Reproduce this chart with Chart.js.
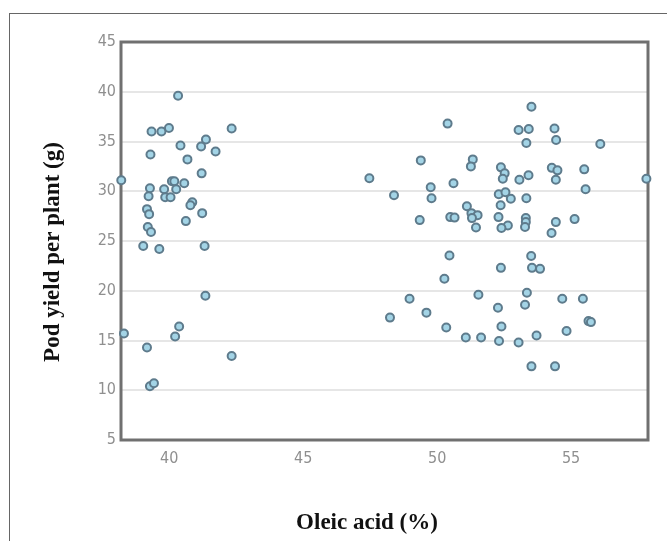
<!DOCTYPE html>
<html lang="en">
  <head>
    <meta charset="UTF-8" />
    <title>Pod yield vs oleic acid</title>
    <script src="https://cdn.jsdelivr.net/npm/chart.js@4.4.1/dist/chart.umd.min.js"></script>
    <style>
      html,
      body {
        margin: 0;
        padding: 0;
        background: #fff;
        overflow: hidden;
      }
      #frame {
        position: absolute;
        left: 9px;
        top: 13px;
        width: 700px;
        height: 600px;
        border-left: 1px solid #666;
        border-top: 1px solid #666;
      }
      #wrap {
        position: absolute;
        left: 0;
        top: 0;
        width: 667px;
        height: 541px;
      }
    </style>
  </head>
  <body>
    <div id="frame"></div>
    <div id="wrap">
      <canvas id="chart" width="667" height="541"></canvas>
    </div>
  </body>
  <script>
    // oleic acid (%) and pod yield (g), low-oleic group
    const oleicLow = [
      38.21, 40.33, 39.34, 39.71, 39.99, 42.33, 41.37, 41.19, 40.42, 41.73,
      39.3, 40.68, 41.21, 40.1, 40.19, 40.56, 39.28, 39.81, 40.26, 39.23,
      39.85, 40.05, 40.86, 40.79, 39.17, 39.25, 41.23, 40.62, 39.2, 39.32,
      39.03, 39.63, 41.32, 41.35, 40.37, 40.22, 38.31, 39.17, 39.28, 39.43,
      42.33,
    ];
    const yieldLow = [
      31.1, 39.6, 36.0, 36.0, 36.35, 36.3, 35.2, 34.5, 34.6, 34.0,
      33.7, 33.2, 31.8, 31.0, 31.0, 30.8, 30.3, 30.2, 30.2, 29.5,
      29.4, 29.4, 28.9, 28.6, 28.2, 27.7, 27.8, 27.0, 26.4, 25.9,
      24.5, 24.2, 24.5, 19.5, 16.4, 15.4, 15.7, 14.3, 10.4, 10.7,
      13.45,
    ];

    // high-oleic group
    const oleicHigh = [
      50.39, 49.39, 51.33, 51.26, 47.47, 50.61, 49.76, 49.79, 48.39, 51.11,
      51.28, 51.51, 51.3, 51.45, 50.49, 50.65, 49.35, 50.46, 50.27, 48.97,
      51.54, 49.6, 48.24, 50.34, 51.07, 51.64, 53.52, 53.04, 53.42, 54.38,
      54.44, 53.33, 56.09, 52.38, 52.52, 52.45, 53.07, 53.41, 54.28, 54.49,
      54.43, 55.49, 55.54, 57.81, 52.3, 52.55, 52.75, 52.37, 53.33, 52.29,
      53.31, 53.31, 54.43, 55.13, 52.64, 52.4, 53.28, 54.27, 53.51, 53.54,
      53.84, 52.38, 53.35, 53.28, 54.67, 55.44, 52.27, 55.65, 55.74, 52.4,
      54.83, 53.71, 52.31, 53.04, 53.52, 54.4,
    ];
    const yieldHigh = [
      36.8, 33.1, 33.2, 32.5, 31.3, 30.8, 30.4, 29.3, 29.6, 28.5,
      27.8, 27.6, 27.3, 26.35, 27.4, 27.35, 27.1, 23.55, 21.2, 19.2,
      19.6, 17.8, 17.3, 16.3, 15.3, 15.3, 38.5, 36.15, 36.25, 36.3,
      35.15, 34.85, 34.75, 32.4, 31.8, 31.25, 31.15, 31.6, 32.35, 32.1,
      31.15, 32.2, 30.2, 31.25, 29.7, 29.9, 29.25, 28.6, 29.3, 27.4,
      27.3, 26.9, 26.9, 27.2, 26.55, 26.3, 26.4, 25.8, 23.5, 22.3,
      22.2, 22.3, 19.8, 18.6, 19.2, 19.2, 18.3, 16.95, 16.85, 16.4,
      15.95, 15.5, 14.95, 14.8, 12.4, 12.4,
    ];

    const xTicks = [40, 45, 50, 55];
    const yTicks = [5, 10, 15, 20, 25, 30, 35, 40, 45];

    const xTitle = "Oleic acid (%)";
    const yTitle = "Pod yield per plant (g)";

    const points = oleicLow
      .map((x, i) => ({ x, y: yieldLow[i] }))
      .concat(oleicHigh.map((x, i) => ({ x, y: yieldHigh[i] })));

    // box around plot (under points) and serif axis titles
    const decor = {
      id: "decor",
      beforeDatasetsDraw(chart) {
        const { ctx, chartArea: a } = chart;
        ctx.save();
        ctx.strokeStyle = "#707070";
        ctx.lineWidth = 3;
        ctx.strokeRect(a.left, a.top, a.right - a.left, a.bottom - a.top);
        ctx.restore();
      },
      afterDraw(chart) {
        const { ctx } = chart;
        ctx.save();
        ctx.fillStyle = "#111";
        ctx.font = "bold 23px 'Liberation Serif', 'DejaVu Serif', serif";
        ctx.textAlign = "center";
        ctx.textBaseline = "middle";
        ctx.fillText(xTitle, 367, 523);
        ctx.translate(53, 252);
        ctx.rotate(-Math.PI / 2);
        ctx.fillText(yTitle, 0, 0);
        ctx.restore();
      },
    };

    const tickFont = {
      family: "'DejaVu Sans Condensed', 'Liberation Sans Narrow', 'Liberation Sans', sans-serif",
      size: 16,
    };

    new Chart(document.getElementById("chart"), {
      type: "scatter",
      data: {
        datasets: [
          {
            data: points,
            backgroundColor: "#a3d4e6",
            borderColor: "#5e7b8c",
            borderWidth: 2,
            pointRadius: 4,
            pointHoverRadius: 4,
            clip: false,
          },
        ],
      },
      options: {
        responsive: false,
        animation: false,
        events: [],
        layout: { padding: { top: 42, right: 19, left: 0, bottom: 0 } },
        plugins: { legend: { display: false }, tooltip: { enabled: false } },
        scales: {
          x: {
            type: "linear",
            min: 38.2,
            max: 57.87,
            afterBuildTicks: (s) => {
              s.ticks = xTicks.map((v) => ({ value: v }));
            },
            afterFit: (s) => {
              s.height = 101;
            },
            grid: { display: false, drawTicks: false },
            border: { display: false },
            ticks: { color: "#8f8f8f", font: tickFont, padding: 9 },
          },
          y: {
            min: 5,
            max: 45,
            afterBuildTicks: (s) => {
              s.ticks = yTicks.map((v) => ({ value: v }));
            },
            afterFit: (s) => {
              s.width = 121;
            },
            grid: { color: "#e6e6e6", lineWidth: 2, drawTicks: false },
            border: { display: false },
            ticks: { color: "#8f8f8f", font: tickFont, padding: 5 },
          },
        },
      },
      plugins: [decor],
    });
  </script>
</html>
